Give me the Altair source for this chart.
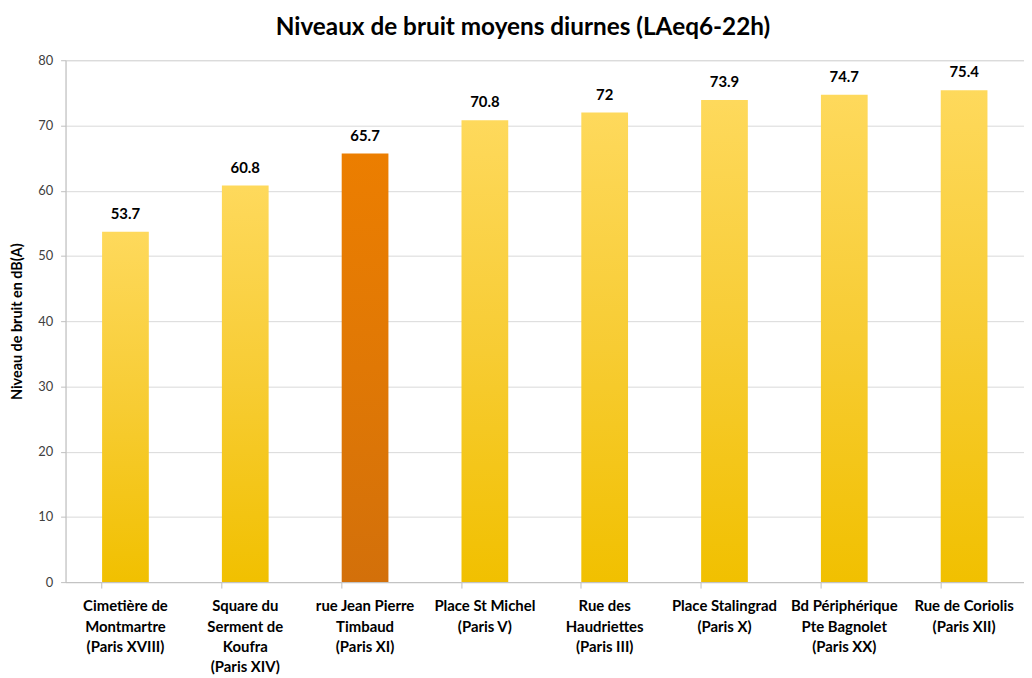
import altair as alt
import pandas as pd

categories = [
    "Cimetière de\nMontmartre\n(Paris XVIII)",
    "Square du\nSerment de\nKoufra\n(Paris XIV)",
    "rue Jean Pierre\nTimbaud\n(Paris XI)",
    "Place St Michel\n(Paris V)",
    "Rue des\nHaudriettes\n(Paris III)",
    "Place Stalingrad\n(Paris X)",
    "Bd Périphérique\nPte Bagnolet\n(Paris XX)",
    "Rue de Coriolis\n(Paris XII)",
]
values = [53.7, 60.8, 65.7, 70.8, 72, 73.9, 74.7, 75.4]
highlight = [False, False, True, False, False, False, False, False]
labels = ["53.7", "60.8", "65.7", "70.8", "72", "73.9", "74.7", "75.4"]

df = pd.DataFrame({"cat": categories, "val": values, "hl": highlight, "lab": labels})

FONT = "Lato"

yellow = alt.Gradient(
    gradient="linear", x1=0, x2=0, y1=0, y2=1,
    stops=[alt.GradientStop(color="#FED95C", offset=0),
           alt.GradientStop(color="#F7CC33", offset=0.5),
           alt.GradientStop(color="#F1C000", offset=1)],
)
orange = alt.Gradient(
    gradient="linear", x1=0, x2=0, y1=0, y2=1,
    stops=[alt.GradientStop(color="#EC7E00", offset=0),
           alt.GradientStop(color="#E07805", offset=0.5),
           alt.GradientStop(color="#D3700A", offset=1)],
)

x = alt.X("cat:N", sort=categories, title=None,
          scale=alt.Scale(paddingInner=0.61, paddingOuter=0.305),
          axis=alt.Axis(labelAngle=0, labelExpr="split(datum.label, '\\n')",
                        labelFont=FONT, labelFontSize=15, labelFontWeight="bold",
                        labelColor="#000000", labelLineHeight=20.5, labelPadding=11,
                        labelLimit=200,
                        bandPosition=0, tickSize=6, tickColor="#BFBFBF",
                        domainColor="#BFBFBF", grid=False))
y = alt.Y("val:Q", title="Niveau de bruit en dB(A)",
          scale=alt.Scale(domain=[0, 80], nice=False),
          axis=alt.Axis(values=[0, 10, 20, 30, 40, 50, 60, 70, 80],
                        labelFont=FONT, labelFontSize=13, labelColor="#404040",
                        labelPadding=8, tickSize=5, tickColor="#BFBFBF",
                        domainColor="#BFBFBF", gridColor="#D9D9D9",
                        titleFont=FONT, titleFontSize=14.5, titleFontWeight="bold",
                        titleColor="#000000", titleX=-48, titleY=263,
                        titleAngle=-90, titleAlign="center", titleBaseline="middle"))

base = alt.Chart(df)
bars_y = base.transform_filter("!datum.hl").mark_bar(color=yellow).encode(x=x, y=y)
bars_o = base.transform_filter("datum.hl").mark_bar(color=orange).encode(x=x, y=y)
text = base.mark_text(dy=-13, font=FONT, fontSize=15, fontWeight="bold",
                      color="#000000", baseline="alphabetic").encode(
    x=alt.X("cat:N", sort=categories), y="val:Q", text="lab:N")

chart = alt.layer(bars_y, bars_o, text).properties(
    width=966, height=526,
    autosize=alt.AutoSizeParams(type="none"),
    padding={"left": 58, "top": 50, "right": 0, "bottom": 94},
    title=alt.TitleParams("Niveaux de bruit moyens diurnes (LAeq6-22h)",
                          font=FONT, fontSize=24.5, fontWeight="bold",
                          color="#000000", anchor="middle", dx=-22, dy=28,
                          baseline="alphabetic", offset=23),
).configure_view(stroke=None).configure(background="white")

chart.save("out.html", embed_options={"renderer": "svg", "actions": False})
